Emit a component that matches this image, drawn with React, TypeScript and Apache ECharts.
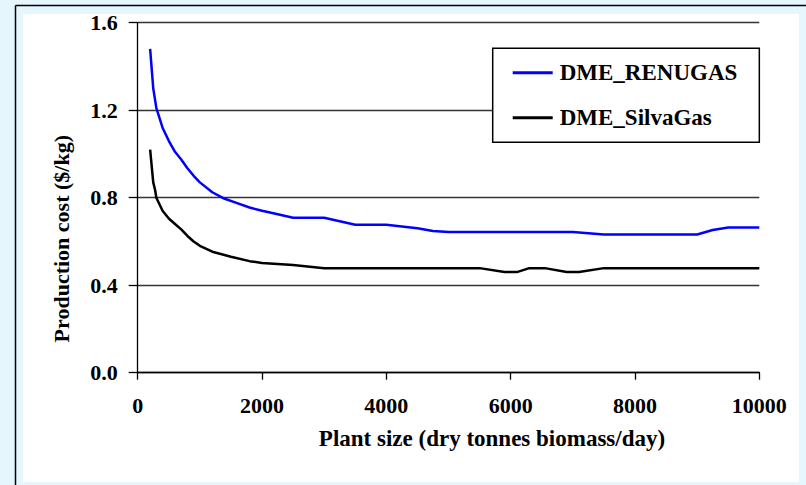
import React, { useEffect, useRef } from "react";
import * as echarts from "echarts";

const xTicks = [0, 2000, 4000, 6000, 8000, 10000];
const yTicks = [0.0, 0.4, 0.8, 1.2, 1.6];

const seriesNames = ["DME_RENUGAS", "DME_SilvaGas"];

const renugasX = [200, 250, 300, 400, 500, 600, 700, 800, 900, 1000, 1200, 1400, 1600, 1800, 2000, 2200, 2500, 3000, 3250, 3500, 4000, 4500, 4750, 5000, 5500, 6000, 6500, 7000, 7500, 8000, 8500, 9000, 9250, 9500, 10000];
const renugasY = [1.48, 1.3, 1.21, 1.12, 1.06, 1.01, 0.975, 0.935, 0.9, 0.87, 0.825, 0.795, 0.775, 0.755, 0.74, 0.728, 0.708, 0.708, 0.692, 0.676, 0.676, 0.66, 0.648, 0.643, 0.643, 0.643, 0.643, 0.643, 0.632, 0.632, 0.632, 0.632, 0.652, 0.664, 0.664];

const silvaX = [200, 250, 280, 300, 350, 400, 500, 600, 700, 800, 900, 1000, 1200, 1500, 1800, 2000, 2500, 3000, 3500, 4000, 4500, 5000, 5500, 5900, 6100, 6300, 6550, 6900, 7100, 7500, 8000, 8500, 9000, 9500, 10000];
const silvaY = [1.02, 0.87, 0.835, 0.8, 0.77, 0.74, 0.705, 0.68, 0.655, 0.625, 0.6, 0.58, 0.553, 0.53, 0.51, 0.502, 0.492, 0.478, 0.478, 0.478, 0.478, 0.478, 0.478, 0.46, 0.46, 0.478, 0.478, 0.46, 0.46, 0.478, 0.478, 0.478, 0.478, 0.478, 0.478];

const FONT = "'Liberation Serif', 'Times New Roman', serif";

export default function App() {
  const ref = useRef<HTMLDivElement>(null);

  useEffect(() => {
    if (!ref.current) return;
    const chart = echarts.init(ref.current, undefined, { renderer: "svg" });
    const pairs = (xs: number[], ys: number[]) => xs.map((x, i) => [x, ys[i]]);
    chart.setOption({
      animation: false,
      backgroundColor: "#e6f6fd",
      textStyle: { fontFamily: FONT },
      graphic: [
        { type: "rect", z: -100, shape: { x: 23, y: 14, width: 776, height: 468 }, style: { fill: "#ffffff" }, silent: true },
        { type: "line", z: -90, shape: { x1: 15.5, y1: 5.5, x2: 15.5, y2: 485 }, style: { stroke: "#000", lineWidth: 1.5 }, silent: true },
        { type: "line", z: -90, shape: { x1: 15.5, y1: 5.5, x2: 806, y2: 5.5 }, style: { stroke: "#000", lineWidth: 1.5 }, silent: true },
      ],
      grid: { left: 137.7, right: 46.7, top: 22.7, bottom: 112.3, containLabel: false },
      legend: {
        orient: "vertical",
        left: 492.7,
        top: 48.3,
        padding: [13, 22, 13, 20],
        itemGap: 22,
        itemWidth: 40,
        itemHeight: 3,
        icon: "rect",
        backgroundColor: "#ffffff",
        borderColor: "#000",
        borderWidth: 1.5,
        textStyle: { fontFamily: FONT, fontWeight: "bold", fontSize: 23, color: "#000", padding: [0, 0, 0, 2] },
        data: seriesNames,
      },
      xAxis: {
        type: "value",
        min: xTicks[0],
        max: xTicks[xTicks.length - 1],
        interval: 2000,
        name: "Plant size (dry tonnes biomass/day)",
        nameLocation: "middle",
        nameGap: 54,
        nameTextStyle: { fontFamily: FONT, fontWeight: "bold", fontSize: 23, color: "#000", padding: [0, 0, 0, 87] },
        axisLine: { show: true, lineStyle: { color: "#000", width: 1.3 } },
        axisTick: { show: true, length: 7, lineStyle: { color: "#000", width: 1.3 } },
        axisLabel: { margin: 22, fontFamily: FONT, fontWeight: "bold", fontSize: 22, color: "#000", formatter: (v: number) => String(v) },
        splitLine: { show: false },
      },
      yAxis: {
        type: "value",
        min: yTicks[0],
        max: yTicks[yTicks.length - 1],
        interval: 0.4,
        name: "Production cost ($/kg)",
        nameLocation: "middle",
        nameGap: 65,
        nameTextStyle: { fontFamily: FONT, fontWeight: "bold", fontSize: 22, color: "#000", padding: [0, 82, 0, 0] },
        axisLine: { show: true, lineStyle: { color: "#000", width: 1.3 } },
        axisTick: { show: true, length: 9, lineStyle: { color: "#000", width: 1.3 } },
        axisLabel: { margin: 20, fontFamily: FONT, fontWeight: "bold", fontSize: 22, color: "#000", formatter: (v: number) => v.toFixed(1) },
        splitLine: { show: true, lineStyle: { color: "#333", width: 1.3 } },
      },
      series: [
        {
          name: seriesNames[0],
          type: "line",
          symbol: "none",
          data: pairs(renugasX, renugasY),
          lineStyle: { color: "#0000ff", width: 2.5 },
          itemStyle: { color: "#0000ff" },
        },
        {
          name: seriesNames[1],
          type: "line",
          symbol: "none",
          data: pairs(silvaX, silvaY),
          lineStyle: { color: "#000000", width: 2.5 },
          itemStyle: { color: "#000000" },
        },
      ],
    });
    return () => chart.dispose();
  }, []);

  return (
    <div
      ref={ref}
      style={{ position: "fixed", left: 0, top: 0, width: 806, height: 485 }}
    />
  );
}
